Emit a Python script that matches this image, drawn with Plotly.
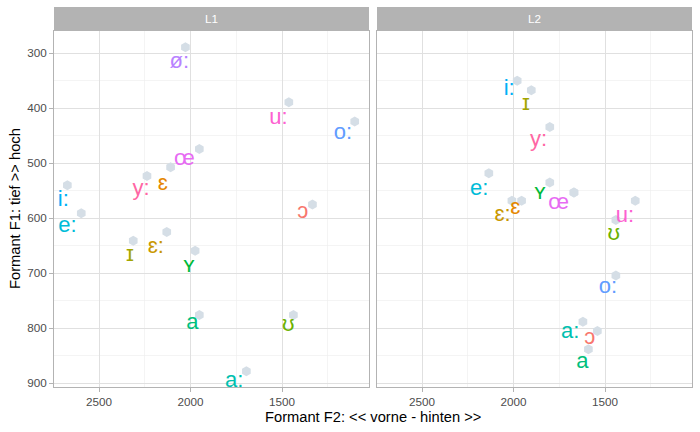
import plotly.graph_objects as go

# ---- data ----
vowels = ["i:", "ɪ", "y:", "ʏ", "e:", "ɛ", "ɛ:", "ø:", "œ", "a", "a:", "u:", "ʊ", "o:", "ɔ"]

# L1: hexagon (point) positions
L1_f2 = [2673, 2313, 2238, 1975, 2597, 2109, 2130, 2028, 1952, 1952, 1695, 1463, 1438, 1103, 1334]
L1_f1 = [540, 641, 523, 659, 591, 507, 625, 289, 474, 776, 878, 389, 776, 424, 575]
# L1: label positions
L1_lab_f2 = [2695, 2331, 2270, 2008, 2673, 2152, 2190, 2061, 2034, 1990, 1762, 1520, 1466, 1168, 1387]
L1_lab_f1 = [567, 667, 547, 688, 615, 539, 653, 317, 493, 792, 897, 418, 794, 445, 589]

# L2: hexagon (point) positions
L2_f2 = [1980, 1903, 1802, 1802, 2135, 1956, 2009, 1670, 1670, 1591, 1621, 1335, 1441, 1441, 1542]
L2_f1 = [350, 367, 434, 535, 518, 568, 568, 553, 553, 838, 788, 568, 603, 704, 805]
# L2: label positions
L2_lab_f2 = [2024, 1932, 1864, 1855, 2188, 1991, 2060, None, 1754, 1624, 1690, 1392, 1452, 1484, 1584]
L2_lab_f1 = [365, 394, 458, 555, 547, 582, 594, None, 573, 862, 808, 596, 630, 725, 818]

panels = ["L1", "L2"]
x_ticks = [2500, 2000, 1500]
x_minor = [2250, 1750, 1250]
y_ticks = [300, 400, 500, 600, 700, 800, 900]
y_minor = [350, 450, 550, 650, 750, 850]

# ggplot2 default hue palette, assigned by factor level
vowel_colors = {
    "ɔ": "#F8766D", "ɛ": "#E58700", "ɛ:": "#C99800", "ɪ": "#A3A500",
    "ʊ": "#6BB100", "ʏ": "#00BA38", "a": "#00BF7D", "a:": "#00C0AF",
    "e:": "#00BCD8", "i:": "#00B0F6", "o:": "#619CFF", "ø:": "#B983FF",
    "œ": "#E76BF3", "u:": "#FD61D1", "y:": "#FF67A4",
}

FONT = "Liberation Sans, Arial, DejaVu Sans, sans-serif"
HEX = "#d5dee6"

fig = go.Figure()

point_sets = [(L1_f2, L1_f1, L1_lab_f2, L1_lab_f1), (L2_f2, L2_f1, L2_lab_f2, L2_lab_f1)]
for i, (pf2, pf1, lf2, lf1) in enumerate(point_sets):
    xa = "x" if i == 0 else "x2"
    ya = "y" if i == 0 else "y2"
    fig.add_trace(go.Scatter(
        x=pf2, y=pf1, mode="markers", xaxis=xa, yaxis=ya,
        marker=dict(symbol="hexagon", size=10, color=HEX, line=dict(width=0)),
        hoverinfo="skip", showlegend=False, cliponaxis=True,
    ))
    tx, ty, tt, tc = [], [], [], []
    for v, a, b in zip(vowels, lf2, lf1):
        if a is None:
            continue
        tx.append(a); ty.append(b); tt.append(v); tc.append(vowel_colors[v])
    fig.add_trace(go.Scatter(
        x=tx, y=ty, mode="text", text=tt, xaxis=xa, yaxis=ya,
        textfont=dict(family=FONT, size=22, color=tc),
        textposition="middle center",
        hoverinfo="skip", showlegend=False, cliponaxis=True,
    ))

W, H = 700, 432
ml, mr, mt, mb = 54, 8, 7, 45
pw = W - ml - mr
ph = H - mt - mb
gap = 8
panel_w = (pw - gap) / 2
d1 = [0, panel_w / pw]
d2 = [(panel_w + gap) / pw, 1]
strip_h = 24
ytop = (ph - strip_h) / ph

base_axis = dict(
    showgrid=True, gridcolor="#e0e0e0", gridwidth=1,
    zeroline=False, showline=True, linecolor="#b3b3b3", linewidth=1, mirror=True,
    ticklen=4, tickcolor="#b3b3b3", tickwidth=1,
    tickfont=dict(family=FONT, size=11.7, color="#4d4d4d"),
)
minor_x = dict(showgrid=True, gridcolor="#ececec", gridwidth=0.6, tickvals=x_minor)
minor_y = dict(showgrid=True, gridcolor="#ececec", gridwidth=0.6, tickvals=y_minor)

xr = [2746, 1025]
yr = [906.7, 259.5]

fig.update_layout(
    width=W, height=H,
    margin=dict(l=ml, r=mr, t=mt, b=mb, autoexpand=False),
    paper_bgcolor="white", plot_bgcolor="white",
    xaxis=dict(domain=d1, range=xr, tickvals=x_ticks, anchor="y", ticks="outside",
               minor=minor_x, **base_axis),
    xaxis2=dict(domain=d2, range=xr, tickvals=x_ticks, anchor="y2", ticks="outside",
                minor=minor_x, **base_axis),
    yaxis=dict(domain=[0, ytop], range=yr, tickvals=y_ticks, anchor="x", ticks="outside",
               minor=minor_y, **base_axis),
    yaxis2=dict(domain=[0, ytop], range=yr, tickvals=y_ticks, anchor="x2", ticks="",
                showticklabels=False, minor=minor_y, **base_axis),
    showlegend=False,
)

# facet strips
for dom, name in zip([d1, d2], panels):
    fig.add_shape(type="rect", xref="paper", yref="paper",
                  x0=dom[0], x1=dom[1], y0=ytop, y1=1,
                  fillcolor="#b3b3b3", line=dict(width=0), layer="above")
    fig.add_annotation(xref="paper", yref="paper", x=(dom[0] + dom[1]) / 2,
                       y=(ytop + 1) / 2, text=name, showarrow=False,
                       font=dict(family=FONT, size=11.7, color="white"),
                       xanchor="center", yanchor="middle")

# axis titles
fig.add_annotation(xref="paper", yref="paper", x=0.5, y=-30 / ph,
                   text="Formant F2: << vorne - hinten >>", showarrow=False,
                   font=dict(family=FONT, size=14.7, color="black"),
                   xanchor="center", yanchor="middle")
fig.add_annotation(xref="paper", yref="paper", x=(15 - ml) / pw, y=(ytop / 2),
                   text="Formant F1: tief >> hoch", showarrow=False, textangle=-90,
                   font=dict(family=FONT, size=14.7, color="black"),
                   xanchor="center", yanchor="middle")

fig.write_html(
    "out.html",
    config={"displayModeBar": False, "staticPlot": True},
    post_script="document.body.style.margin='0';document.body.style.overflow='hidden';",
)
